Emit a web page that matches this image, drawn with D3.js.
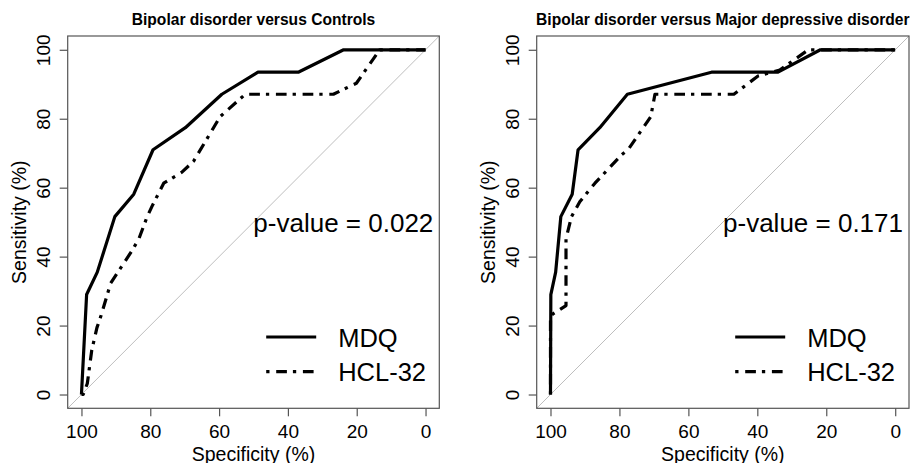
<!DOCTYPE html>
<html>
<head>
<meta charset="utf-8">
<script src="https://cdn.jsdelivr.net/npm/d3@7"></script>
<style>
  html, body { margin: 0; padding: 0; background: #fff; }
  svg { display: block; font-family: "Liberation Sans", Arial, Helvetica, sans-serif; }
</style>
</head>
<body>
<svg id="chart" width="911" height="463"></svg>
<script>
// ---- data ----
const panelTitles = ["Bipolar disorder versus Controls", "Bipolar disorder versus Major depressive disorder"];
const pValues = ["p-value = 0.022", "p-value = 0.171"];
const seriesNames = ["MDQ", "HCL-32"];
const tickValues = [100, 80, 60, 40, 20, 0];

const leftMDQSpec = [100, 98.5, 95.4, 90.3, 84.8, 79.2, 69.8, 59.2, 48.7, 37.0, 23.8, 0];
const leftMDQSens = [0, 29.0, 35.5, 51.6, 58.1, 71.0, 77.4, 87.1, 93.5, 93.5, 100, 100];

const leftHCLSpec = [100, 99.5, 98.3, 97.0, 95.5, 94.4, 91.5, 85.2, 83.3, 80.9, 79.4, 76.1, 70.8, 67.4, 59.7, 52.4, 26.8, 20.1, 13.3, 0];
const leftHCLSens = [0, 0, 3.2, 12.9, 19.4, 22.6, 32.3, 41.9, 45.2, 51.6, 54.8, 61.3, 64.5, 67.7, 80.6, 87.1, 87.1, 90.3, 100, 100];

const rightMDQSpec = [100, 99.9, 98.5, 97.0, 93.7, 92.0, 85.7, 77.7, 53.3, 34.0, 21.7, 0];
const rightMDQSens = [0, 29.0, 35.5, 51.6, 58.1, 71.0, 77.4, 87.1, 93.5, 93.5, 100, 100];

const rightHCLSpec = [100, 100, 99.4, 95.5, 95.5, 93.9, 91.5, 87.1, 79.4, 77.5, 70.9, 69.7, 46.8, 39.8, 33.5, 25.2, 0];
const rightHCLSens = [0, 22.6, 23.3, 25.8, 45.2, 51.6, 55.9, 61.3, 69.5, 71.0, 80.6, 87.1, 87.1, 92.4, 94.1, 100, 100];

const panels = [
  { title: panelTitles[0], p: pValues[0], left: 67.7, right: 439.3,
    series: [ {spec: leftMDQSpec, sens: leftMDQSens}, {spec: leftHCLSpec, sens: leftHCLSens} ] },
  { title: panelTitles[1], p: pValues[1], left: 536.7, right: 909,
    series: [ {spec: rightMDQSpec, sens: rightMDQSens}, {spec: rightHCLSpec, sens: rightHCLSens} ] }
];

const plotTop = 36, plotBottom = 408.3;
const dashHCL = "3.3,6.7,10.7,6";
const boxColor = "#555";
const svg = d3.select("#chart");

panels.forEach((P, pi) => {
  const x = d3.scaleLinear().domain([104, -4]).range([P.left, P.right]);
  const y = d3.scaleLinear().domain([-4, 104]).range([plotBottom, plotTop]);
  const g = svg.append("g");
  const clipId = "clip" + pi;
  g.append("clipPath").attr("id", clipId).append("rect")
    .attr("x", P.left).attr("y", plotTop).attr("width", P.right - P.left).attr("height", plotBottom - plotTop);

  // diagonal reference
  g.append("line").attr("clip-path", `url(#${clipId})`)
    .attr("x1", x(104)).attr("y1", y(-4)).attr("x2", x(-4)).attr("y2", y(104))
    .attr("stroke", "#bebebe").attr("stroke-width", 1);

  // curves
  const line = d3.line().x(d => x(d[0])).y(d => y(d[1]));
  P.series.forEach((s, si) => {
    const pts = s.spec.map((v, i) => [v, s.sens[i]]);
    const path = g.append("path").datum(pts).attr("d", line)
      .attr("fill", "none").attr("stroke", "#000").attr("stroke-width", 3.2)
      .attr("stroke-linejoin", "round");
    if (si === 1) path.attr("stroke-dasharray", dashHCL);
  });

  // box
  g.append("rect").attr("x", P.left).attr("y", plotTop)
    .attr("width", P.right - P.left).attr("height", plotBottom - plotTop)
    .attr("fill", "none").attr("stroke", boxColor).attr("stroke-width", 1.2);

  // x axis
  const xAxis = d3.axisBottom(x).tickValues(tickValues).tickSize(8).tickPadding(4).tickFormat(d3.format("d"));
  const xa = g.append("g").attr("transform", `translate(0,${plotBottom})`).call(xAxis);
  xa.select(".domain").remove();
  xa.selectAll(".tick line").attr("stroke", boxColor).attr("stroke-width", 1.2);
  xa.selectAll(".tick text").attr("font-size", 19).attr("fill", "#000")
    .attr("font-family", "Liberation Sans, Arial, sans-serif")
    .attr("dy", null).attr("y", 29.5);

  // y axis
  const yAxis = d3.axisLeft(y).tickValues(tickValues).tickSize(8).tickFormat(d3.format("d"));
  const ya = g.append("g").attr("transform", `translate(${P.left},0)`).call(yAxis);
  ya.select(".domain").remove();
  ya.selectAll(".tick line").attr("stroke", boxColor).attr("stroke-width", 1.2);
  ya.selectAll(".tick text").attr("font-size", 19).attr("fill", "#000")
    .attr("font-family", "Liberation Sans, Arial, sans-serif")
    .attr("x", null).attr("dy", null).attr("text-anchor", "middle")
    .attr("transform", "translate(-18,0) rotate(-90)");

  // axis labels
  const cx = (P.left + P.right) / 2, cy = (plotTop + plotBottom) / 2;
  g.append("text").attr("x", cx).attr("y", 460.5).attr("text-anchor", "middle")
    .attr("font-size", 19.5).text("Specificity (%)");
  g.append("text").attr("transform", `translate(${P.left - 41.5},${cy}) rotate(-90)`)
    .attr("text-anchor", "middle").attr("font-size", 19.5).text("Sensitivity (%)");

  // title
  g.append("text").attr("x", cx).attr("y", 25).attr("text-anchor", "middle")
    .attr("font-size", 15.6).attr("font-weight", "bold").text(P.title);

  // p-value
  g.append("text").attr("x", P.right - 6).attr("y", cy + 9.5).attr("text-anchor", "end")
    .attr("font-size", 26).text(P.p);

  // legend
  const lx = P.left + 198.5;
  const ly = [337, 371.7];
  seriesNames.forEach((name, i) => {
    const l = g.append("line").attr("x1", lx).attr("x2", lx + 50).attr("y1", ly[i]).attr("y2", ly[i])
      .attr("stroke", "#000").attr("stroke-width", 3.2);
    if (i === 1) l.attr("stroke-dasharray", dashHCL);
    g.append("text").attr("x", lx + 72).attr("y", ly[i] + 9.5).attr("font-size", 25.5).text(name);
  });
});
</script>
</body>
</html>
